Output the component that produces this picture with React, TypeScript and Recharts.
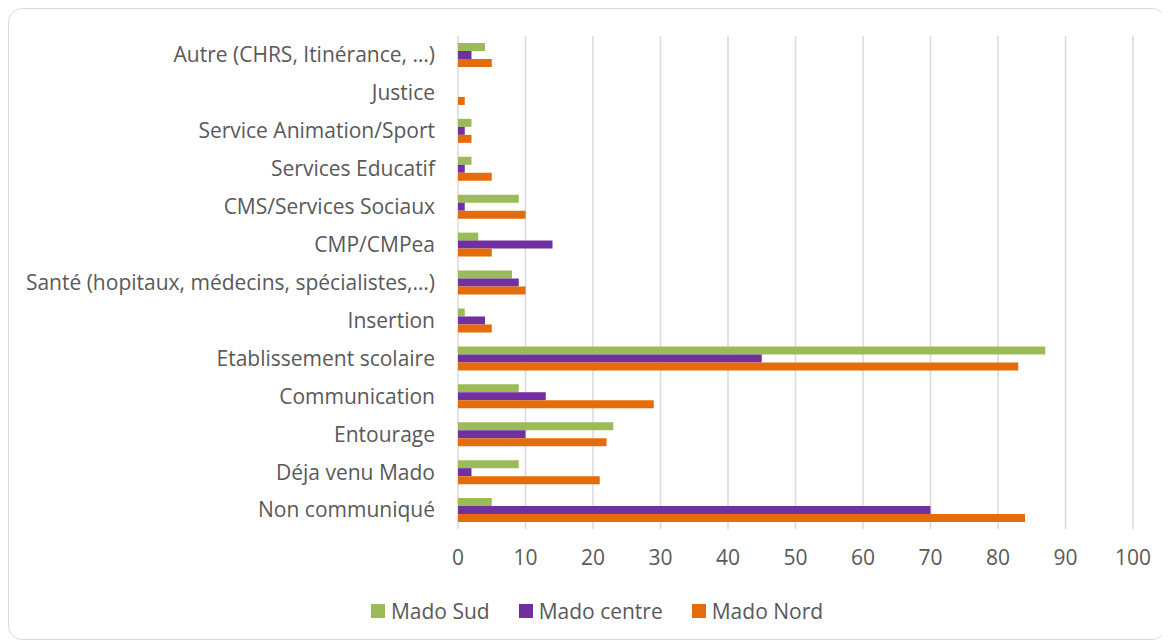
import { BarChart, Bar, XAxis, YAxis, CartesianGrid, Legend } from 'recharts'

const categories = [
  'Autre (CHRS, Itinérance, …)',
  'Justice',
  'Service Animation/Sport',
  'Services Educatif',
  'CMS/Services Sociaux',
  'CMP/CMPea',
  'Santé (hopitaux, médecins, spécialistes,…)',
  'Insertion',
  'Etablissement scolaire',
  'Communication',
  'Entourage',
  'Déja venu Mado',
  'Non communiqué',
]

const madoSud = [4, 0, 2, 2, 9, 3, 8, 1, 87, 9, 23, 9, 5]
const madoCentre = [2, 0, 1, 1, 1, 14, 9, 4, 45, 13, 10, 2, 70]
const madoNord = [5, 1, 2, 5, 10, 5, 10, 5, 83, 29, 22, 21, 84]

const xTicks = [0, 10, 20, 30, 40, 50, 60, 70, 80, 90, 100]

const SERIES = [
  { key: 'sud', name: 'Mado Sud', color: '#9BBB59' },
  { key: 'centre', name: 'Mado centre', color: '#7030A0' },
  { key: 'nord', name: 'Mado Nord', color: '#E46C0A' },
]

const data = categories.map((name, i) => ({
  name,
  sud: madoSud[i],
  centre: madoCentre[i],
  nord: madoNord[i],
}))

const FONT = '"Open Sans", "Noto Sans", sans-serif'
const TEXT = '#595959'

const renderLegend = () => (
  <div style={{ display: 'flex', justifyContent: 'center', gap: 29, fontFamily: FONT, fontSize: 21, color: TEXT, paddingLeft: 52, marginTop: -2 }}>
    {SERIES.map((s) => (
      <div key={s.key} style={{ display: 'flex', alignItems: 'center', gap: 6 }}>
        <span style={{ width: 14, height: 14, background: s.color, display: 'inline-block' }} />
        <span>{s.name}</span>
      </div>
    ))}
  </div>
)

export default function App() {
  return (
    <div
      style={{
        width: 1156,
        height: 630,
        border: '1px solid #d9d9d9',
        borderRadius: 14,
        background: '#fff',
        fontFamily: FONT,
      }}
    >
      <BarChart
        width={1156}
        height={630}
        data={data}
        layout="vertical"
        margin={{ top: 27, right: 32, left: 0, bottom: 14 }}
        barSize={8}
        barGap={0}
      >
        <CartesianGrid horizontal={false} stroke="#d9d9d9" strokeWidth={1.5} />
        <XAxis
          type="number"
          domain={[0, 100]}
          ticks={xTicks}
          axisLine={false}
          tickLine={false}
          tickMargin={15}
          height={70}
          tick={{ fill: TEXT, fontSize: 21, fontFamily: FONT }}
        />
        <YAxis
          type="category"
          dataKey="name"
          width={449}
          axisLine={false}
          tickLine={false}
          tickMargin={17}
          interval={0}
          tick={{ fill: TEXT, fontSize: 21, fontFamily: FONT }}
        />
        <Legend verticalAlign="bottom" content={renderLegend} />
        {SERIES.map((s) => (
          <Bar key={s.key} dataKey={s.key} name={s.name} fill={s.color} isAnimationActive={false} />
        ))}
      </BarChart>
    </div>
  )
}
